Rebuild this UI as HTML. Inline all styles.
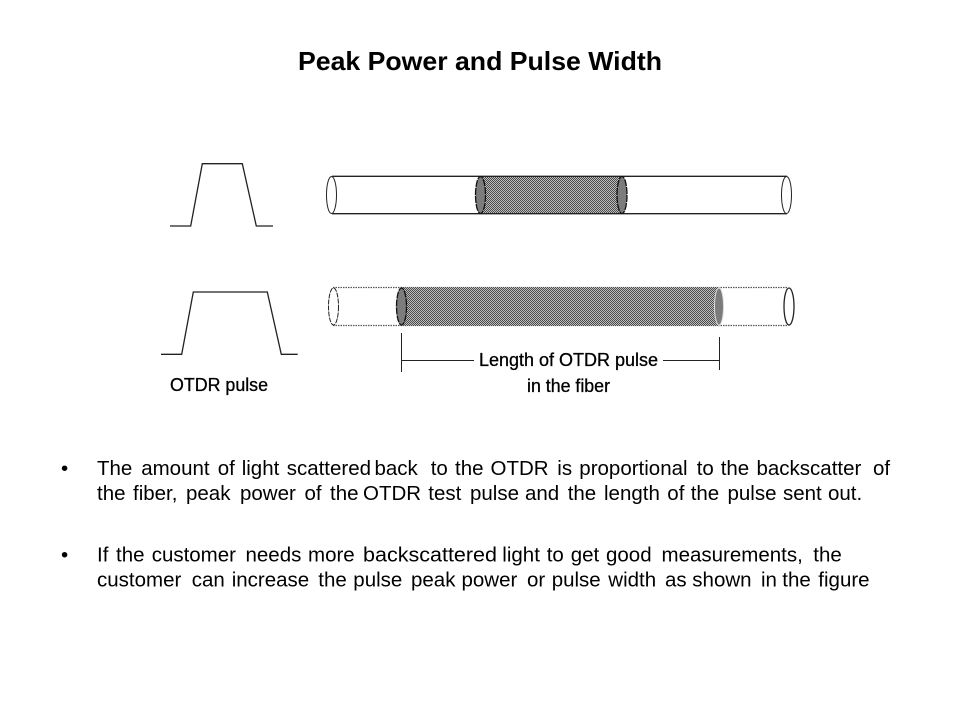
<!DOCTYPE html>
<html><head><meta charset="utf-8"><style>
html,body{margin:0;padding:0;background:#fff}
svg{display:block}
text{font-family:"Liberation Sans",sans-serif;fill:#000}
.b{font-size:20.5px}
.l{font-size:18px;stroke:#000;stroke-width:.3px}
</style></head><body>
<svg width="960" height="720" viewBox="0 0 960 720" xmlns="http://www.w3.org/2000/svg">
<defs>
<pattern id="d" width="2" height="2" patternUnits="userSpaceOnUse">
<rect width="2" height="2" fill="#bdbdbd"/><rect width="1" height="1" fill="#4c4c4c"/><rect x="1" y="1" width="1" height="1" fill="#4c4c4c"/>
</pattern>
</defs>
<rect width="960" height="720" fill="#fff"/>
<text x="298" y="70" font-size="26" font-weight="bold" textLength="364" lengthAdjust="spacingAndGlyphs">Peak Power and Pulse Width</text>

<g fill="none" stroke="#222" stroke-width="1.3">
<polyline points="170,226 190.7,226 202.3,163.7 242.3,163.7 256.3,226 273,226"/>
<polyline points="161,354.3 181.7,354.3 193.3,292 267.3,292 281.3,354.3 297.7,354.3"/>
</g>

<!-- fiber 1 -->
<rect x="481" y="176.5" width="141" height="37" fill="url(#d)"/>
<g fill="none" stroke="#222" stroke-width="1.4">
<line x1="332" y1="176.3" x2="787" y2="176.3"/>
<line x1="332" y1="213.7" x2="787" y2="213.7"/>
</g>
<ellipse cx="331.5" cy="195" rx="5" ry="18.5" fill="#fff" stroke="#222" stroke-width="1"/>
<ellipse cx="786.5" cy="195" rx="5" ry="18.5" fill="#fff" stroke="#222" stroke-width="1"/>
<ellipse cx="480.5" cy="195" rx="5" ry="18.5" fill="#7c7c7c" stroke="#111" stroke-width="1.3" stroke-dasharray="7 1"/>
<ellipse cx="622" cy="195" rx="5" ry="18.5" fill="#7c7c7c" stroke="#111" stroke-width="1.3" stroke-dasharray="7 1"/>

<!-- fiber 2 -->
<g fill="none" stroke="#555" stroke-width="1.3" stroke-dasharray="1.5 1">
<line x1="333" y1="287.5" x2="788" y2="287.5"/>
<line x1="333" y1="325.5" x2="788" y2="325.5"/>
</g>
<rect x="401.5" y="287" width="317.5" height="39" fill="url(#d)"/>
<ellipse cx="333.5" cy="306.5" rx="5" ry="18.5" fill="#fff" stroke="#222" stroke-width="1" stroke-dasharray="5 1"/>
<ellipse cx="789" cy="306.5" rx="5" ry="18.5" fill="#fff" stroke="#222" stroke-width="1.3"/>
<ellipse cx="401.5" cy="306.5" rx="5" ry="18.5" fill="#7c7c7c" stroke="#111" stroke-width="1.3" stroke-dasharray="7 1"/>
<ellipse cx="719" cy="306.5" rx="4.5" ry="18.5" fill="#7c7c7c" stroke="#ddd" stroke-width="1"/>

<!-- dimension -->
<g fill="none" stroke="#222" stroke-width="1">
<line x1="401.5" y1="333" x2="401.5" y2="372"/>
<line x1="719.5" y1="337" x2="719.5" y2="370"/>
<line x1="401.5" y1="360.5" x2="474" y2="360.5"/>
<line x1="663" y1="360.5" x2="719.5" y2="360.5"/>
</g>

<text class="l" x="170" y="391" textLength="98" lengthAdjust="spacingAndGlyphs">OTDR pulse</text>
<text class="l" x="479" y="366" textLength="179" lengthAdjust="spacingAndGlyphs">Length of OTDR pulse</text>
<text class="l" x="527" y="392" textLength="83" lengthAdjust="spacingAndGlyphs">in the fiber</text>

<text class="b" x="61" y="475">•</text>
<text class="b" y="475"><tspan x="97">The</tspan> <tspan x="141.2">amount</tspan> <tspan x="217.7">of</tspan> <tspan x="241.7">light</tspan> <tspan x="286.7">scattered</tspan> <tspan x="374.5">back</tspan> <tspan x="430.7">to</tspan> <tspan x="455">the</tspan> <tspan x="490.5">OTDR</tspan> <tspan x="557.3">is</tspan> <tspan x="579.3">proportional</tspan> <tspan x="696.7">to</tspan> <tspan x="720.7">the</tspan> <tspan x="756.5">backscatter</tspan> <tspan x="873">of</tspan></text>
<text class="b" y="500"><tspan x="97">the</tspan> <tspan x="133">fiber,</tspan> <tspan x="186">peak</tspan> <tspan x="240">power</tspan> <tspan x="304.5">of</tspan> <tspan x="330">the</tspan> <tspan x="363">OTDR</tspan> <tspan x="428.3">test</tspan> <tspan x="470">pulse</tspan> <tspan x="525">and</tspan> <tspan x="567.7">the</tspan> <tspan x="604">length</tspan> <tspan x="667.3">of</tspan> <tspan x="690.7">the</tspan> <tspan x="727.5">pulse</tspan> <tspan x="783">sent</tspan> <tspan x="828">out.</tspan></text>
<text class="b" x="61" y="561.5">•</text>
<text class="b" y="561.5"><tspan x="97">If</tspan> <tspan x="116">the</tspan> <tspan x="151.7">customer</tspan> <tspan x="245.5">needs</tspan> <tspan x="308">more</tspan> <tspan x="363" textLength="134" lengthAdjust="spacingAndGlyphs">backscattered</tspan> <tspan x="502.3">light</tspan> <tspan x="546.7">to</tspan> <tspan x="570.7">get</tspan> <tspan x="606">good</tspan> <tspan x="661.5">measurements,</tspan> <tspan x="813.3">the</tspan></text>
<text class="b" y="586.5"><tspan x="97">customer</tspan> <tspan x="191.7">can</tspan> <tspan x="231.7">increase</tspan> <tspan x="318.3">the</tspan> <tspan x="353.3">pulse</tspan> <tspan x="411">peak</tspan> <tspan x="461.5">power</tspan> <tspan x="527">or</tspan> <tspan x="551.7">pulse</tspan> <tspan x="608.3">width</tspan> <tspan x="665">as</tspan> <tspan x="692.3">shown</tspan> <tspan x="761">in</tspan> <tspan x="782.3">the</tspan> <tspan x="818.3">figure</tspan></text>
</svg>
</body></html>
